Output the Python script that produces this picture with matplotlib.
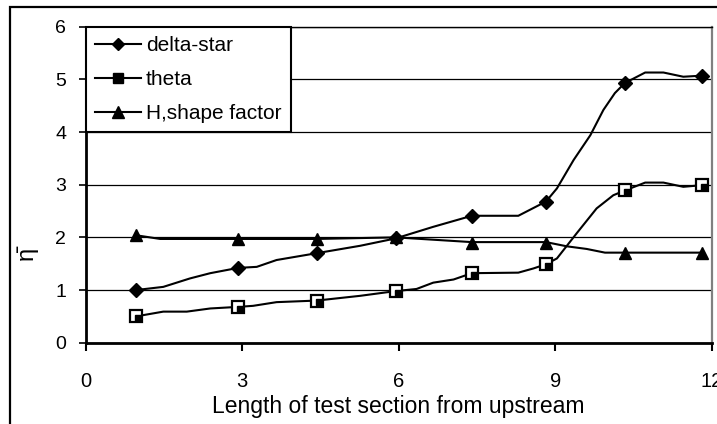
import matplotlib
matplotlib.use("Agg")
import matplotlib.pyplot as plt
from matplotlib.patches import Rectangle
from matplotlib.lines import Line2D

plt.rcParams["font.family"] = ["Liberation Sans", "DejaVu Sans"]

# Measurement stations (markers)
stations = [0.97, 2.92, 4.43, 5.94, 7.40, 8.82, 10.33, 11.80]
delta_star = [1.00, 1.42, 1.70, 1.98, 2.41, 2.68, 4.93, 5.07]
theta = [0.50, 0.68, 0.80, 0.98, 1.32, 1.49, 2.89, 2.99]
shape_factor = [2.04, 1.97, 1.97, 2.00, 1.90, 1.90, 1.71, 1.71]

# Smoothed trend curves
delta_x = [0.97, 1.49, 2.00, 2.39, 2.92, 3.28, 3.66, 4.43, 5.26, 5.94, 6.66,
           7.40, 8.29, 8.82, 9.03, 9.35, 9.67, 9.92, 10.14, 10.33, 10.72,
           11.07, 11.45, 11.80]
delta_y = [1.00, 1.06, 1.22, 1.32, 1.42, 1.44, 1.57, 1.70, 1.84, 1.98, 2.20,
           2.41, 2.41, 2.68, 2.93, 3.47, 3.94, 4.42, 4.74, 4.93, 5.13,
           5.13, 5.05, 5.07]
theta_x = [0.97, 1.49, 1.94, 2.39, 2.92, 3.21, 3.66, 4.43, 5.26, 5.94, 6.34,
           6.66, 7.05, 7.40, 8.29, 8.58, 8.82, 9.03, 9.41, 9.79, 10.11, 10.33,
           10.72, 11.07, 11.45, 11.80]
theta_y = [0.50, 0.59, 0.59, 0.65, 0.68, 0.70, 0.77, 0.80, 0.89, 0.98, 1.02,
           1.14, 1.20, 1.32, 1.33, 1.41, 1.49, 1.60, 2.08, 2.55, 2.80, 2.89,
           3.04, 3.04, 2.96, 2.99]
shape_x = [0.97, 1.43, 2.92, 4.43, 5.94, 7.40, 8.82, 9.22, 9.60, 9.95, 10.33,
           11.80]
shape_y = [2.04, 1.97, 1.97, 1.97, 2.00, 1.91, 1.91, 1.83, 1.78, 1.71, 1.71,
           1.71]

x_ticks = [0, 3, 6, 9, 12]
y_ticks = [0, 1, 2, 3, 4, 5, 6]

W, H = 717, 424
fig = plt.figure(figsize=(W / 100, H / 100), dpi=100)
ax = fig.add_axes([85.5 / W, 81.3 / H, (712 - 85.5) / W, (342.7 - 26.7) / H])

# Chart-area frame
fig.patches.append(Rectangle((9.5 / W, -0.2), 1.2, 1.2 - 6.5 / H,
                             transform=fig.transFigure, fill=False,
                             edgecolor="black", linewidth=1.6, zorder=0))

lw = 1.5
ax.plot(delta_x, delta_y, color="black", lw=lw, zorder=3)
ax.plot(theta_x, theta_y, color="black", lw=lw, zorder=3)
ax.plot(shape_x, shape_y, color="black", lw=lw, zorder=3)

ax.plot(stations, delta_star, linestyle="none", marker="D", ms=7,
        color="black", zorder=4)
ax.plot(stations, theta, linestyle="none", marker="s", ms=8.5,
        mfc="white", mec="black", mew=1.6, zorder=4)
ax.plot([s + 0.04 for s in stations], [t - 0.035 for t in theta],
        linestyle="none", marker="s", ms=4.5, color="black", zorder=5)
ax.plot(stations, shape_factor, linestyle="none", marker="^", ms=9,
        color="black", zorder=4)

ax.set_xlim(0, 12)
ax.set_ylim(0, 6)
ax.set_xticks(x_ticks)
ax.set_yticks(y_ticks)
ax.tick_params(axis="x", direction="out", length=6, width=1.5, pad=15,
               labelsize=14.5)
ax.tick_params(axis="y", direction="out", length=5, width=1.2, pad=9,
               labelsize=14)
ax.yaxis.grid(True, color="black", linewidth=0.9)
ax.set_axisbelow(True)

ax.spines["left"].set_linewidth(2)
ax.spines["bottom"].set_linewidth(2)
ax.spines["top"].set_linewidth(1)
ax.spines["right"].set_color("#808080")
ax.spines["right"].set_linewidth(1.6)

ax.set_xlabel("Length of test section from upstream", fontsize=16.5,
              labelpad=3)
fig.text(27 / W, 1 - 253 / H, "η\u0304", rotation=90, fontsize=17,
         ha="center", va="center")

handles = [
    Line2D([], [], color="black", lw=lw, marker="D", ms=6),
    Line2D([], [], color="black", lw=lw, marker="s", ms=7, mfc="black"),
    Line2D([], [], color="black", lw=lw, marker="^", ms=8),
]
leg = ax.legend(handles, ["delta-star", "theta", "H,shape factor"],
                loc="upper left", bbox_to_anchor=(0, 1), borderaxespad=0,
                fontsize=15, frameon=True, fancybox=False, framealpha=1,
                edgecolor="black", handlelength=2.2, handletextpad=0.25,
                labelspacing=0.72, borderpad=0.45)
leg.get_frame().set_linewidth(1.5)
leg.set_zorder(10)

fig.savefig("out.png", dpi=100)
